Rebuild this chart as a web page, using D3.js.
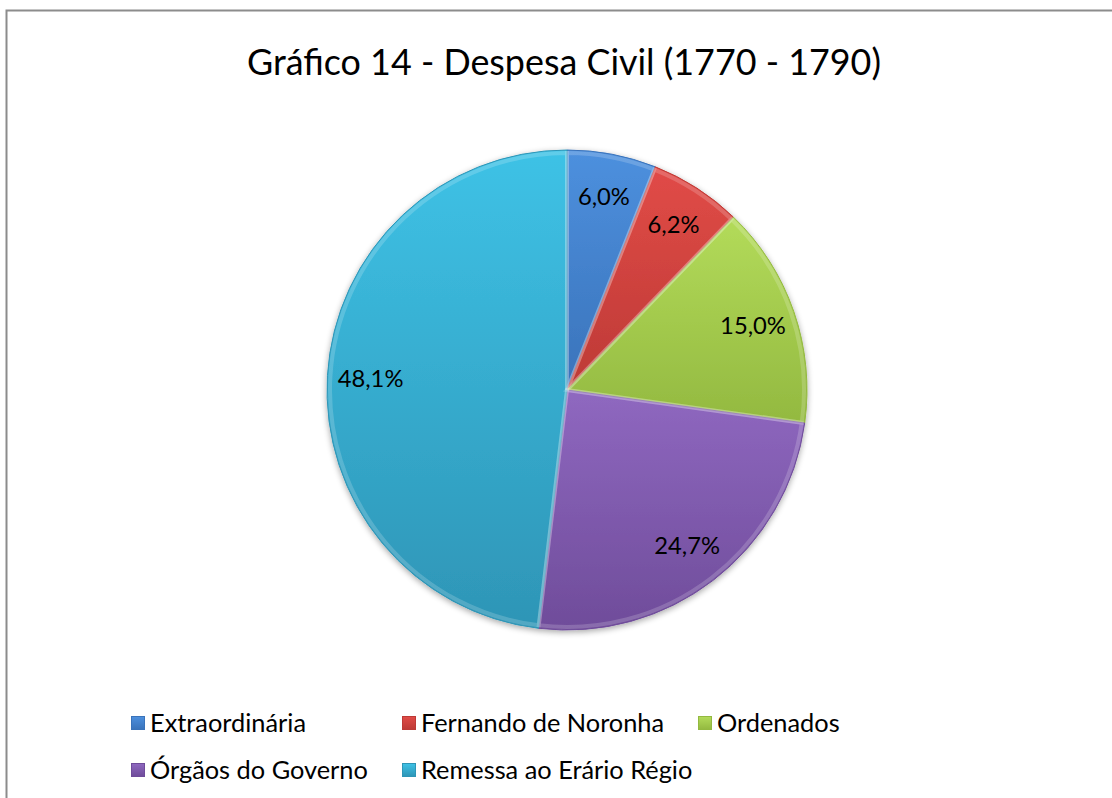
<!DOCTYPE html>
<html>
<head>
<meta charset="utf-8">
<script src="https://cdn.jsdelivr.net/npm/d3@7"></script>
<style>
  html, body { margin: 0; padding: 0; background: #fff; }
  svg { display: block; }
</style>
</head>
<body>
<div id="chart"></div>
<script>
// Chart data
const chartTitle = 'Gráfico 14 - Despesa Civil (1770 - 1790)';
const categories = ['Extraordinária', 'Fernando de Noronha', 'Ordenados', 'Órgãos do Governo', 'Remessa ao Erário Régio'];
const shares = [6.0, 6.2, 15.0, 24.7, 48.1];
const shareLabels = ['6,0%', '6,2%', '15,0%', '24,7%', '48,1%'];

// slice colours: light top / dark bottom of each gradient
const colorsLight = ['#4d90de', '#e14b47', '#b3db5a', '#8f68c0', '#3ec2e6'];
const colorsDark = ['#3a73ba', '#bd3a36', '#93b940', '#6f4c9a', '#2e95b6'];

const width = 1112;
const height = 798;
const font = 'Lato, "Open Sans", sans-serif';

const svg = d3.select('#chart')
    .append('svg')
    .attr('width', width)
    .attr('height', height);

const defs = svg.append('defs');

// gradients for each slice
categories.forEach(function (c, i) {
    const g = defs.append('linearGradient')
        .attr('id', 'grad' + i)
        .attr('x1', 0).attr('y1', 0)
        .attr('x2', 0).attr('y2', 1);
    g.append('stop').attr('offset', '0%').attr('stop-color', colorsLight[i]);
    g.append('stop').attr('offset', '100%').attr('stop-color', colorsDark[i]);
});

const shadow = defs.append('filter')
    .attr('id', 'shadow')
    .attr('x', '-20%').attr('y', '-20%')
    .attr('width', '140%').attr('height', '140%');
shadow.append('feGaussianBlur').attr('in', 'SourceAlpha').attr('stdDeviation', 3);
shadow.append('feOffset').attr('dx', 0).attr('dy', 2).attr('result', 'off');
shadow.append('feComponentTransfer').append('feFuncA').attr('type', 'linear').attr('slope', 0.35);
const merge = shadow.append('feMerge');
merge.append('feMergeNode');
merge.append('feMergeNode').attr('in', 'SourceGraphic');

// chart frame (right and bottom edges fall outside the picture)
svg.append('rect')
    .attr('x', 6.5)
    .attr('y', 10.5)
    .attr('width', width + 20)
    .attr('height', height + 20)
    .attr('fill', 'none')
    .attr('stroke', '#8c8c8c')
    .attr('stroke-width', 2);

// helper: font size so that a text gets the width measured on the reference
function fitSize(sel, targetWidth) {
    const w = sel.node().getComputedTextLength();
    const fs = parseFloat(sel.attr('font-size'));
    return fs * targetWidth / w;
}

// title
const title = svg.append('text')
    .attr('x', 564)
    .attr('y', 75)
    .attr('text-anchor', 'middle')
    .attr('font-family', font)
    .attr('font-size', 34)
    .attr('fill', '#000')
    .text(chartTitle);
title.attr('font-size', fitSize(title, 634).toFixed(2));

// pie
const cx = 567, cy = 390, radius = 240;
const pie = d3.pie().sort(null).value(d => d);
const arc = d3.arc().innerRadius(0).outerRadius(radius);
const labelArc = d3.arc().innerRadius(radius * 0.82).outerRadius(radius * 0.82);
const arcs = pie(shares);

const pieG = svg.append('g')
    .attr('transform', 'translate(' + cx + ',' + cy + ')');

const sliceG = pieG.append('g').attr('filter', 'url(#shadow)');
sliceG.selectAll('path.slice')
    .data(arcs)
    .enter()
    .append('path')
    .attr('class', 'slice')
    .attr('d', arc)
    .attr('fill', (d, i) => 'url(#grad' + i + ')')
    .attr('stroke', (d, i) => colorsDark[i])
    .attr('stroke-width', 1);

// soft bevel highlight along the slice edges
const bevelArc = d3.arc().innerRadius(0).outerRadius(radius - 3);
pieG.selectAll('path.bevel')
    .data(arcs)
    .enter()
    .append('path')
    .attr('class', 'bevel')
    .attr('d', bevelArc)
    .attr('fill', 'none')
    .attr('stroke', 'rgba(255,255,255,0.18)')
    .attr('stroke-width', 4);

const labels = pieG.selectAll('text.label')
    .data(arcs)
    .enter()
    .append('text')
    .attr('class', 'label')
    .attr('transform', d => 'translate(' + labelArc.centroid(d) + ')')
    .attr('text-anchor', 'middle')
    .attr('dy', '0.35em')
    .attr('font-family', font)
    .attr('font-size', 21)
    .attr('fill', '#000')
    .text((d, i) => shareLabels[i]);
const labelSize = fitSize(d3.select(labels.nodes()[0]), 52);
labels.attr('font-size', labelSize.toFixed(2));

// legend
const legendX = [131, 402, 698];
const legendY = [723, 770];
const legend = svg.append('g');
const legendTexts = [];
categories.forEach(function (c, i) {
    const x = legendX[i % 3];
    const y = legendY[Math.floor(i / 3)];
    legend.append('rect')
        .attr('x', x + 0.5)
        .attr('y', y - 6.5)
        .attr('width', 13)
        .attr('height', 13)
        .attr('fill', 'url(#grad' + i + ')')
        .attr('stroke', colorsDark[i])
        .attr('stroke-width', 1);
    legendTexts.push(legend.append('text')
        .attr('x', x + 19)
        .attr('y', y)
        .attr('dy', '0.35em')
        .attr('font-family', font)
        .attr('font-size', 21)
        .attr('fill', '#000')
        .text(c));
});
const legendSize = fitSize(legendTexts[0], 156);
legendTexts.forEach(t => t.attr('font-size', legendSize.toFixed(2)));
</script>
</body>
</html>
